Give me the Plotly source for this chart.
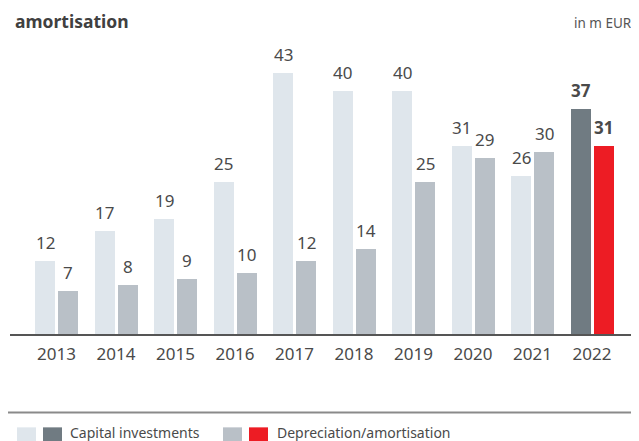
import plotly.graph_objects as go

years = ["2013", "2014", "2015", "2016", "2017", "2018", "2019", "2020", "2021", "2022"]
capex = [12, 17, 19, 25, 43, 40, 40, 31, 26, 37]
depr = [7, 8, 9, 10, 12, 14, 25, 29, 30, 31]

W, H = 639, 441
OFF = 8  # page offset of the figure (default body margin)
L, BASE = 10 - OFF, 334.5 - OFF   # figure px
CAT = 59.5
X0 = 56.5 - OFF  # figure px centre of first category
xr = [(L - X0) / CAT, (W - X0) / CAT]
pxu = 6.085
yr = [0, BASE / pxu]

def px_x(x):  # page px -> paper
    return (x - OFF - L) / (W - L)

def px_y(y):  # page px -> paper
    return (BASE - (y - OFF)) / BASE

bw = 20 / CAT
gap = 1.5 / CAT
xs = list(range(len(years)))
n = len(years)
cap_colors = ["#dfe6ec"] * (n - 1) + ["#707b82"]
dep_colors = ["#b9c0c7"] * (n - 1) + ["#ed1c24"]

fig = go.Figure()
fig.add_trace(go.Bar(x=xs, y=capex, width=bw, offset=-bw - gap,
                     marker=dict(color=cap_colors, line=dict(width=0)), showlegend=False))
fig.add_trace(go.Bar(x=xs, y=depr, width=bw, offset=gap,
                     marker=dict(color=dep_colors, line=dict(width=0)), showlegend=False))

font = "Noto Sans, Open Sans, sans-serif"
tc = "#4a4a4a"
ann = []
for i, (c, d) in enumerate(zip(capex, depr)):
    bold = i == n - 1
    for v, xc in ((c, i - bw / 2 - gap), (d, i + bw / 2 + gap)):
        ann.append(dict(x=xc, y=v, xref="x", yref="y", text=f"<b>{v}</b>" if bold else str(v),
                        showarrow=False, yanchor="bottom", yshift=5,
                        font=dict(family=font, size=17, color=tc)))

ann.append(dict(x=px_x(13), y=px_y(35), xref="paper", yref="paper", xanchor="left", yanchor="bottom",
                text="<b>amortisation</b>", showarrow=False,
                font=dict(family=font, size=17.5, color="#404040")))
ann.append(dict(x=px_x(13), y=px_y(8), xref="paper", yref="paper", xanchor="left", yanchor="bottom",
                text="<b>Capital investments and depreciation/</b>", showarrow=False,
                font=dict(family=font, size=17.5, color="#404040")))
ann.append(dict(x=px_x(634), y=px_y(23), xref="paper", yref="paper", xanchor="right", yanchor="middle",
                text="in m EUR", showarrow=False,
                font=dict(family=font, size=13.5, color="#555555")))

shapes = [
    dict(type="line", xref="paper", yref="paper", x0=px_x(8), x1=px_x(647), y0=px_y(413), y1=px_y(413),
         line=dict(color="#8a8a8a", width=2)),
]
leg = [(17, "#dfe6ec"), (43, "#707b82"), (223, "#b9c0c7"), (249, "#ed1c24")]
for x, col in leg:
    shapes.append(dict(type="rect", xref="paper", yref="paper", x0=px_x(x), x1=px_x(x + 19),
                       y0=px_y(446), y1=px_y(428), fillcolor=col, line=dict(width=0)))
for x, t in ((68, "Capital investments"), (275, "Depreciation/amortisation")):
    ann.append(dict(x=px_x(x), y=px_y(433), xref="paper", yref="paper", xanchor="left", yanchor="middle",
                    text=t, showarrow=False, font=dict(family=font, size=14, color=tc)))

fig.update_layout(
    width=W, height=H, margin=dict(l=L, r=0, t=0, b=H - BASE),
    paper_bgcolor="white", plot_bgcolor="white",
    xaxis=dict(range=xr, tickmode="array", tickvals=xs, ticktext=years, showgrid=False, zeroline=False,
               showline=True, linecolor="#555555", linewidth=1.5, ticks="outside", ticklen=4,
               tickcolor="rgba(0,0,0,0)", tickfont=dict(family=font, size=17, color=tc)),
    yaxis=dict(range=yr, visible=False, showgrid=False, zeroline=False),
    annotations=ann, shapes=shapes, showlegend=False, bargap=0,
)
fig.write_html("out.html")
